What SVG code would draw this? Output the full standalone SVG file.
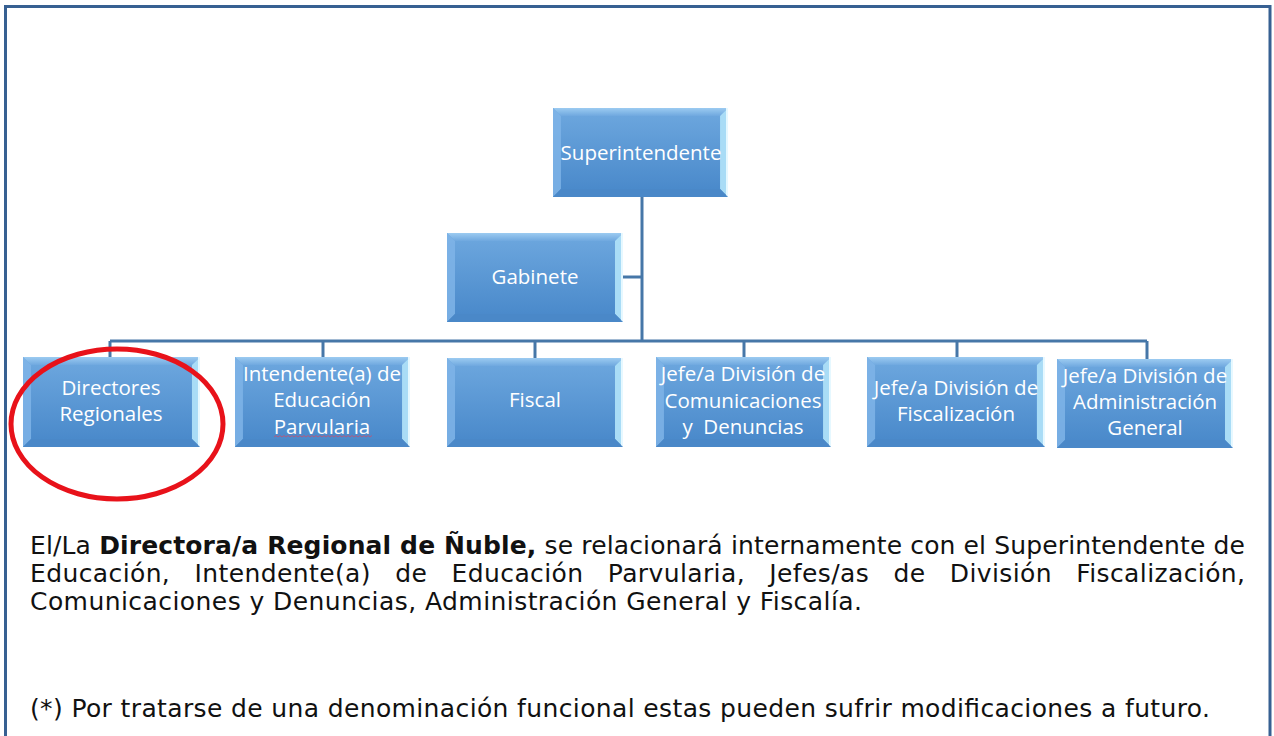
<svg xmlns="http://www.w3.org/2000/svg" xmlns:xlink="http://www.w3.org/1999/xlink" width="1274" height="736" viewBox="0 0 1274 736">
<style>
.lbl{font-family:"Open Sans","Noto Sans","Liberation Sans",sans-serif;font-size:20.5px;fill:#ffffff;text-anchor:middle;}
.conn{stroke:#4677a8;stroke-width:3;fill:none;}
.para{font-family:"DejaVu Sans","Liberation Sans",sans-serif;font-size:25px;fill:#111111;}
.b{font-weight:bold;}
</style>
<defs>
<linearGradient id="face" x1="0" y1="0" x2="0" y2="1">
<stop offset="0" stop-color="#6ea8df"/>
<stop offset="1" stop-color="#4787c9"/>
</linearGradient>
<linearGradient id="topb" x1="0" y1="0" x2="0" y2="1">
<stop offset="0" stop-color="#9ccbf1"/>
<stop offset="1" stop-color="#6fa8df"/>
</linearGradient>
<symbol id="box" viewBox="0 0 176 89" preserveAspectRatio="none">
<rect x="0" y="0" width="176" height="89" fill="url(#face)"/>
<polygon points="0,0 176,0 168,8 8,8" fill="url(#topb)"/>
<polygon points="0,0 8,8 8,81 0,89" fill="#7fb4e8" opacity="0.85"/>
<polygon points="176,0 176,89 168,81 168,8" fill="#a9dcf6"/>
<rect x="174" y="0" width="2" height="89" fill="#e6f8ff"/>
<polygon points="0,89 8,81 168,81 176,89" fill="#4a88c8"/>
</symbol>
</defs>
<rect x="0" y="0" width="1274" height="736" fill="#ffffff"/>
<path d="M5.5,740 V6.5 H1270 V740" fill="none" stroke="#376092" stroke-width="3"/>
<g id="connectors">
<path class="conn" d="M642,197 V341"/>
<path class="conn" d="M623,277 H642"/>
<path class="conn" d="M110,341 H1147"/>
<path class="conn" d="M110,341 V358"/>
<path class="conn" d="M323,341 V358"/>
<path class="conn" d="M535,341 V358"/>
<path class="conn" d="M744,341 V358"/>
<path class="conn" d="M957,341 V358"/>
<path class="conn" d="M1147,341 V360"/>
</g>
<g id="n-superintendente">
<use xlink:href="#box" x="553" y="108" width="175" height="89"/>
<text class="lbl" x="641" y="160">Superintendente</text>
</g>
<g id="n-gabinete">
<use xlink:href="#box" x="447" y="233" width="176" height="89"/>
<text class="lbl" x="535" y="284">Gabinete</text>
</g>
<g id="n-directores">
<use xlink:href="#box" x="23" y="357" width="177" height="90"/>
<text class="lbl" x="111" y="395">Directores</text>
<text class="lbl" x="111" y="421">Regionales</text>
</g>
<g id="n-intendente">
<use xlink:href="#box" x="235" y="357" width="175" height="90"/>
<text class="lbl" x="322" y="381">Intendente(a) de</text>
<text class="lbl" x="322" y="407">Educación</text>
<text class="lbl" x="322" y="434">Parvularia</text>
<path d="M274,437 l2,-1.5 l2,1.5 l2,-1.5 l2,1.5 l2,-1.5 l2,1.5 l2,-1.5 l2,1.5 l2,-1.5 l2,1.5 l2,-1.5 l2,1.5 l2,-1.5 l2,1.5 l2,-1.5 l2,1.5 l2,-1.5 l2,1.5 l2,-1.5 l2,1.5 l2,-1.5 l2,1.5 l2,-1.5 l2,1.5 l2,-1.5 l2,1.5 l2,-1.5 l2,1.5 l2,-1.5 l2,1.5 l2,-1.5 l2,1.5 l2,-1.5 l2,1.5 l2,-1.5 l2,1.5 l2,-1.5 l2,1.5 l2,-1.5 l2,1.5 l2,-1.5 l2,1.5 l2,-1.5 l2,1.5 l2,-1.5 l2,1.5 l2,-1.5 l2,1.5 l2,-1.5" fill="none" stroke="#c8506e" stroke-width="1" opacity="0.8"/>
</g>
<g id="n-fiscal">
<use xlink:href="#box" x="447" y="358" width="176" height="89"/>
<text class="lbl" x="535" y="407">Fiscal</text>
</g>
<g id="n-comunicaciones">
<use xlink:href="#box" x="656" y="357" width="175" height="90"/>
<text class="lbl" x="743" y="381">Jefe/a División de</text>
<text class="lbl" x="743" y="408">Comunicaciones</text>
<text class="lbl" x="743" y="434" xml:space="preserve">y  Denuncias</text>
</g>
<g id="n-fiscalizacion">
<use xlink:href="#box" x="867" y="357" width="178" height="90"/>
<text class="lbl" x="956" y="395">Jefe/a División de</text>
<text class="lbl" x="956" y="421">Fiscalización</text>
</g>
<g id="n-administracion">
<use xlink:href="#box" x="1057" y="359" width="176" height="89"/>
<text class="lbl" x="1145" y="383">Jefe/a División de</text>
<text class="lbl" x="1145" y="409">Administración</text>
<text class="lbl" x="1145" y="435">General</text>
</g>
<ellipse cx="117" cy="424" rx="106" ry="75" fill="none" stroke="#e8121a" stroke-width="5"/>
<g id="paragraph">
<text class="para" x="30" y="554" textLength="1215" lengthAdjust="spacing" xml:space="preserve">El/La <tspan class="b">Directora/a Regional de Ñuble,</tspan> se relacionará internamente con el Superintendente de</text>
<text class="para" x="30" y="582" word-spacing="16" textLength="1215" lengthAdjust="spacing">Educación, Intendente(a) de Educación Parvularia, Jefes/as de División Fiscalización,</text>
<text class="para" x="30" y="610" textLength="832" lengthAdjust="spacing">Comunicaciones y Denuncias, Administración General y Fiscalía.</text>
<text class="para" x="30" y="717" textLength="1180" lengthAdjust="spacing">(*) Por tratarse de una denominación funcional estas pueden sufrir modificaciones a futuro.</text>
</g>
</svg>
